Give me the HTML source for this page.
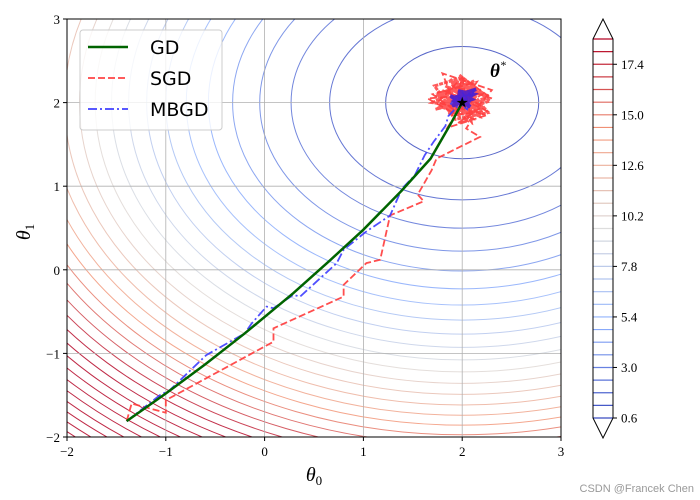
<!DOCTYPE html>
<html><head><meta charset="utf-8"><style>
html,body{margin:0;padding:0;background:#fff;overflow:hidden;width:700px;height:500px;}
svg{display:block;}
svg text{font-family:"Liberation Serif",serif;}
</style></head><body>
<svg id="chart" width="700" height="500" xmlns="http://www.w3.org/2000/svg">
<defs><clipPath id="clip"><rect x="67" y="19" width="494" height="418"/></clipPath></defs>
<g id="contours" clip-path="url(#clip)"></g>
<g id="grid"></g>
<g id="paths" clip-path="url(#clip)"></g>
<rect x="67" y="19" width="494" height="418" fill="none" stroke="#000" stroke-width="1"/>
<g id="ticks"></g>
<text x="314" y="481" font-size="20" font-style="italic" text-anchor="middle">θ<tspan font-size="13" dy="4" font-style="normal">0</tspan></text>
<text x="0" y="0" font-size="20" font-style="italic" text-anchor="middle" transform="translate(30,232) rotate(-90)">θ<tspan font-size="13" dy="4" font-style="normal">1</tspan></text>
<text x="490" y="77" font-size="19" font-weight="bold" font-style="italic">θ<tspan font-size="12" dy="-8" font-weight="normal">*</tspan></text>
<g>
<rect x="80" y="30" width="142" height="100" rx="3" fill="#fff" fill-opacity="0.8" stroke="#ccc"/>
<line x1="88" y1="47" x2="128" y2="47" stroke="#006400" stroke-width="2.5"/>
<text x="150" y="54" font-size="19" style="font-family:'DejaVu Sans',sans-serif">GD</text>
<line x1="88" y1="78" x2="128" y2="78" stroke="#ff4444" stroke-width="1.8" stroke-dasharray="7,3"/>
<text x="150" y="85" font-size="19" style="font-family:'DejaVu Sans',sans-serif">SGD</text>
<line x1="88" y1="109" x2="128" y2="109" stroke="#4040ff" stroke-width="1.8" stroke-dasharray="9,3,2,3"/>
<text x="150" y="116" font-size="19" style="font-family:'DejaVu Sans',sans-serif">MBGD</text>
</g>
<g id="cbar"></g>
<text x="694" y="492" font-size="11" fill="#999" text-anchor="end" style="font-family:'Liberation Sans',sans-serif">CSDN @Francek Chen</text>
</svg>
<script>
const xTicks=[-2,-1,0,1,2,3];
const yTicks=[-2,-1,0,1,2,3];
const theta=[2,2];
const bCoef=1.33;
const levelStart=0.6, levelStep=1.2, levelMax=40;
const colorMin=0.6, colorMax=26;
const cbarTicks=[0.6,3.0,5.4,7.8,10.2,12.6,15.0,17.4];
const cbarMin=0.6, cbarMax=18.6, cbarStep=0.6;
const gdX=[-1.396,-1.0,-0.6,-0.2,0.29,0.65,1.0,1.39,1.68,1.89,2.0];
const gdY=[-1.81,-1.48,-1.13,-0.76,-0.28,0.1,0.48,0.95,1.33,1.76,2.0];
const sgdX=[-1.396,-1.346,-1.0,-1.0,0.09,0.09,0.80,0.80,1.03,1.17,1.27,1.61,1.55,1.69,1.74,2.18,2.04,2.1,1.95,2.2,1.9,2.3,2.0,1.75,2.25,1.85,2.15,1.7,2.05,2.3,1.8,1.95,2.2,1.65,2.1,2.0,1.9,2.25,1.8,2.1,2.0];
const sgdY=[-1.81,-1.60,-1.71,-1.56,-0.86,-0.70,-0.32,-0.18,0.08,0.12,0.65,0.82,0.9,1.19,1.33,1.59,1.69,1.8,1.75,1.95,2.2,2.05,2.3,2.0,1.85,1.7,2.25,2.1,1.8,2.15,2.35,1.9,2.1,2.05,1.75,2.3,1.85,1.9,2.15,2.0,2.0];
const sgdClusterX=[2.0,1.82,1.95,2.12,1.78,2.05,2.22,1.9,1.72,2.0,2.18,1.85,2.08,2.26,1.93,1.75,2.02,2.15,1.88,2.1,1.8,2.2,1.97,2.28,1.86,2.04,1.7,2.12,1.95,2.24,1.83,2.06,2.17,1.9,2.0,1.77,2.14,2.25,1.92,2.03,1.84,2.19,1.98,2.1,1.73,2.0];
const sgdClusterY=[2.0,2.12,2.25,2.18,1.95,1.85,2.05,1.9,2.2,2.3,1.92,2.05,2.15,1.88,1.8,2.08,2.22,2.0,2.28,1.82,1.98,2.12,2.33,2.02,1.86,1.95,2.0,2.26,2.1,1.92,2.2,2.05,1.84,1.97,2.18,2.1,1.9,2.08,2.24,1.88,2.02,2.15,1.94,2.06,1.92,2.0];
const mbX=[-1.396,-1.06,-0.96,-0.59,-0.2,-0.13,0.02,0.09,0.29,0.36,0.73,0.80,1.02,1.27,1.39,1.52,1.62,1.71,1.83,1.86,1.95,2.1,1.9,2.05,2.12,1.88,2.0,2.08,1.93,2.0];
const mbY=[-1.81,-1.50,-1.44,-1.02,-0.76,-0.64,-0.44,-0.46,-0.30,-0.32,0.08,0.24,0.45,0.65,0.97,1.13,1.37,1.53,1.72,1.84,1.95,2.1,2.05,1.92,2.15,1.98,2.12,2.0,2.08,2.0];
const mbClusterX=[2.0,1.92,2.05,1.9,2.1,1.96,2.12,1.94,2.03,1.88,2.08,1.98,2.14,1.92,2.02,2.0];
const mbClusterY=[2.0,2.06,2.12,1.96,2.04,2.14,2.1,1.98,2.02,2.08,1.95,2.1,2.16,2.02,1.97,2.0];

const NS='http://www.w3.org/2000/svg';
const X0=67,X1=561,Y0=19,Y1=437;
const sx=v=>X0+(v+2)/5*(X1-X0);
const sy=v=>Y1-(v+2)/5*(Y1-Y0);
function el(t,a,p){const e=document.createElementNS(NS,t);for(const k in a)e.setAttribute(k,a[k]);p.appendChild(e);return e;}
const stops=[[0,[59,76,192]],[0.25,[141,176,254]],[0.5,[221,221,221]],[0.75,[244,154,123]],[1,[180,4,38]]];
function cmap(t){t=Math.max(0,Math.min(1,t));for(let i=1;i<stops.length;i++){if(t<=stops[i][0]){const a=stops[i-1],b=stops[i],f=(t-a[0])/(b[0]-a[0]);const c=a[1].map((v,j)=>Math.round(v+(b[1][j]-v)*f));return `rgb(${c[0]},${c[1]},${c[2]})`;}}return 'rgb(180,4,38)';}
const pxX=(X1-X0)/5,pxY=(Y1-Y0)/5;
const cg=document.getElementById('contours');
for(let L=levelStart;L<=levelMax;L+=levelStep){
  const e=el('ellipse',{cx:sx(theta[0]),cy:sy(theta[1]),rx:Math.sqrt(L)*pxX,ry:Math.sqrt(L/bCoef)*pxY,fill:'none',stroke:cmap((L-colorMin)/(colorMax-colorMin)),'stroke-width':1,'stroke-opacity':0.85},cg);
  
  
}
const gg=document.getElementById('grid'),tg=document.getElementById('ticks');
xTicks.forEach(v=>{
  const l=el('line',{x1:sx(v),x2:sx(v),y1:Y0,y2:Y1,stroke:'#b0b0b0','stroke-width':0.8},gg);
  
  el('line',{x1:sx(v),x2:sx(v),y1:Y1,y2:Y1+4,stroke:'#000'},tg);
  const t=el('text',{x:sx(v),y:Y1+19,'font-size':13,'text-anchor':'middle'},tg);
  t.textContent=(v<0?'−':'')+Math.abs(v);
  
});
yTicks.forEach(v=>{
  const l=el('line',{x1:X0,x2:X1,y1:sy(v),y2:sy(v),stroke:'#b0b0b0','stroke-width':0.8},gg);
  
  el('line',{x1:X0-4,x2:X0,y1:sy(v),y2:sy(v),stroke:'#000'},tg);
  const t=el('text',{x:X0-7,y:sy(v)+5,'font-size':13,'text-anchor':'end'},tg);
  t.textContent=(v<0?'−':'')+Math.abs(v);
  
});
const pg=document.getElementById('paths');
function pts(xs,ys){return xs.map((x,i)=>sx(x)+','+sy(ys[i])).join(' ');}
let p=el('polyline',{points:pts(sgdX,sgdY),fill:'none',stroke:'#ff3b3b','stroke-width':1.8,'stroke-dasharray':'7,3','stroke-opacity':0.9},pg);

p=el('polyline',{points:pts(sgdClusterX,sgdClusterY),fill:'none',stroke:'#ff4040','stroke-width':3,'stroke-dasharray':'4,1','stroke-opacity':0.85},pg);

p=el('polyline',{points:pts(mbX,mbY),fill:'none',stroke:'#3c3cff','stroke-width':1.8,'stroke-dasharray':'9,3,2,3','stroke-opacity':0.9},pg);

p=el('polyline',{points:pts(mbClusterX,mbClusterY),fill:'none',stroke:'#4a1fd0','stroke-width':3.5,'stroke-opacity':0.9},pg);

p=el('polyline',{points:pts(gdX,gdY),fill:'none',stroke:'#006400','stroke-width':2.5},pg);

const st=el('text',{x:sx(theta[0]),y:sy(theta[1])+5,'font-size':15,'text-anchor':'middle'},pg);
st.textContent='★';

const cb=document.getElementById('cbar');
const CX0=593,CX1=613,CY0=39,CY1=418;
const cy=v=>CY1-(v-cbarMin)/(cbarMax-cbarMin)*(CY1-CY0);
el('rect',{x:CX0,y:CY0,width:CX1-CX0,height:CY1-CY0,fill:'#fff'},cb);
for(let v=cbarMin;v<=cbarMax+1e-6;v+=cbarStep){
  const l=el('line',{x1:CX0,x2:CX1,y1:cy(v),y2:cy(v),stroke:cmap((v-cbarMin)/(cbarMax-cbarMin)),'stroke-width':1.2},cb);
  
}
el('path',{d:`M${CX0},${CY1} L${CX0},${CY0} L${(CX0+CX1)/2},${CY0-20} L${CX1},${CY0} L${CX1},${CY1} L${(CX0+CX1)/2},${CY1+20} Z`,fill:'none',stroke:'#000','stroke-width':1},cb);
cbarTicks.forEach(v=>{
  el('line',{x1:CX1,x2:CX1+4,y1:cy(v),y2:cy(v),stroke:'#000'},cb);
  const t=el('text',{x:CX1+8,y:cy(v)+4.5,'font-size':13},cb);
  t.textContent=v.toFixed(1);
  
});
</script>
</body></html>
